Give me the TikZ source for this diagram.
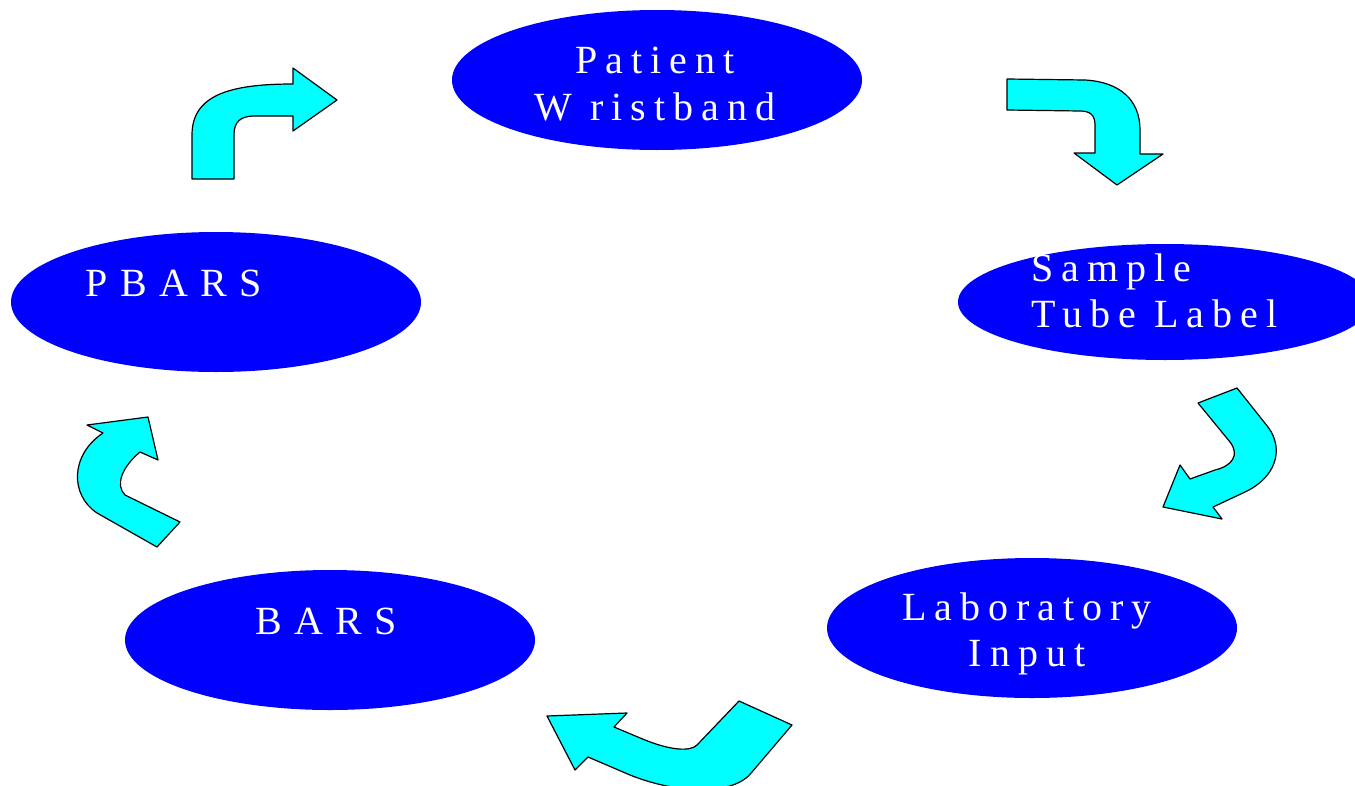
\documentclass[tikz,border=0pt]{standalone}
\usepackage{fontspec}
\setmainfont{Liberation Serif}
\newfontfamily\stagefont[LetterSpace=20]{Liberation Serif}
\newfontfamily\widestagefont[LetterSpace=31]{Liberation Serif}
\usetikzlibrary{shapes.geometric}
\definecolor{stageblue}{RGB}{0,0,255}
\definecolor{turncyan}{RGB}{0,255,255}
\tikzset{
  stage/.style={ellipse,fill=stageblue,inner sep=0pt,minimum width=307.5pt,minimum height=105pt},
  stagetext/.style={text=white,font=\stagefont\fontsize{30pt}{34.5pt}\selectfont,inner sep=0pt},
  turn/.style={fill=turncyan,draw=black,line width=.9pt,line join=round}
}
\begin{document}
\begin{tikzpicture}[x=.75pt,y=-.75pt]
\useasboundingbox[fill=white](0,0)rectangle(1355,785);
% stations
\node[stage](wrist) at (657,80){};
\node[stage,minimum width=310.5pt,minimum height=87pt](tube) at (1165,302){};
\node[stage](lab) at (1032,628){};
\node[stage](bars) at (330,640){};
\node[stage](pbars) at (216,302){};
\node[stagetext,align=center,font=\stagefont\fontsize{30pt}{35.5pt}\selectfont](wristtext) at (655,84){Patient\\W ristband};
\node[stagetext,align=left,anchor=west](tubetext) at (1031,291){Sample\\Tube Label};
\node[stagetext,align=center](labtext) at (1027,634){Laboratory\\Input};
\node[stagetext,font=\widestagefont\fontsize{30pt}{33pt}\selectfont](barstext) at (326,621){BARS};
\node[stagetext,font=\widestagefont\fontsize{30pt}{33pt}\selectfont](pbarstext) at (174,283){PBARS};
% turning arrows
\draw[turn](192,179)--(192,135)..controls(192,95)and(230,84)..(293,84)--(293,68)--(337,100)--(293,131)--(293,116)--(255,116)..controls(240,116)and(234,122)..(234,135)--(234,179)--cycle;
\draw[turn](1007,79)--(1085,80)..controls(1120,82)and(1140,100)..(1140,130)--(1140,154)--(1163,154)--(1117,185)--(1074,153)--(1095,153)--(1095,125)..controls(1095,115)and(1090,111)..(1080,111)--(1007,110)--cycle;
\draw[turn](1198,403)--(1230,442)..controls(1240,455)and(1232,466)..(1215,470)--(1190,479)--(1180,465)--(1163,507)--(1222,519)--(1213,507)--(1245,492)..controls(1275,478)and(1285,450)..(1268,427)--(1237,388)--cycle;
\draw[turn](739,701)--(697,745)..controls(690,752)and(670,750)..(645,740)--(614,727)--(627,713)--(547,716)--(575,770)--(588,757)--(630,775)..controls(680,795)and(735,795)..(752,772)--(792,725)--cycle;
\draw[turn](157,547)--(97,513)..controls(70,495)and(70,455)..(103,433)--(87,425)--(148,417)--(158,460)--(140,452)..controls(122,467)and(115,485)..(125,495)--(180,522)--cycle;
\end{tikzpicture}
\end{document}
